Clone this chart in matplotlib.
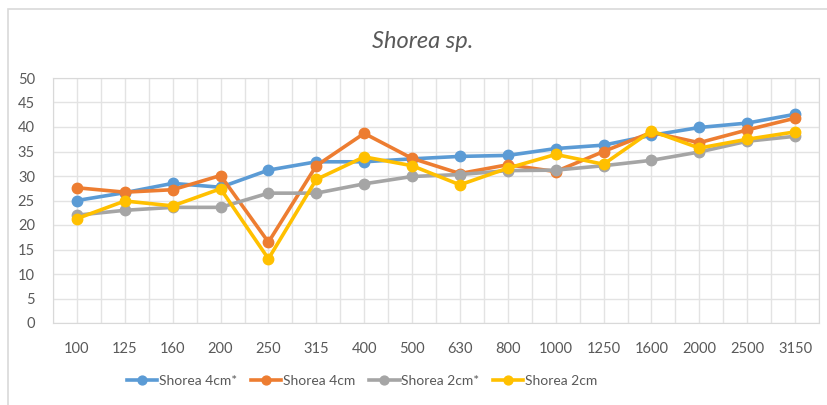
import matplotlib.pyplot as plt
import numpy as np
from matplotlib.patches import Rectangle

plt.rcParams['font.family'] = ['Lato', 'DejaVu Sans']

# Data
frequencies = ['100', '125', '160', '200', '250', '315', '400', '500', '630',
               '800', '1000', '1250', '1600', '2000', '2500', '3150']
shorea_4cm_star = [25.0, 26.6, 28.5, 27.7, 31.2, 32.9, 32.9, 33.5, 34.0,
                   34.2, 35.6, 36.3, 38.3, 39.9, 40.8, 42.6]
shorea_4cm = [27.6, 26.7, 27.2, 30.1, 16.5, 32.1, 38.7, 33.6, 30.5,
              32.3, 30.9, 35.0, 38.9, 36.8, 39.4, 41.8]
shorea_2cm_star = [22.0, 23.0, 23.6, 23.6, 26.5, 26.5, 28.4, 29.9, 30.3,
                   31.1, 31.2, 32.1, 33.2, 34.9, 37.1, 38.1]
shorea_2cm = [21.3, 24.9, 23.9, 27.4, 13.1, 29.3, 33.9, 32.1, 28.2,
              31.6, 34.4, 32.4, 39.2, 35.7, 37.5, 39.0]

series = [
    ('Shorea 4cm*', shorea_4cm_star, '#5B9BD5'),
    ('Shorea 4cm', shorea_4cm, '#ED7D31'),
    ('Shorea 2cm*', shorea_2cm_star, '#A5A5A5'),
    ('Shorea 2cm', shorea_2cm, '#FFC000'),
]

fig = plt.figure(figsize=(8.27, 4.05), dpi=100)
ax = fig.add_axes([53 / 827, 82 / 405, 766 / 827, 245 / 405])

# chart area border (cut off at right/bottom like the reference)
fig.patches.append(Rectangle((8 / 827, -0.05), 1.2, (405 - 9) / 405 + 0.05,
                             transform=fig.transFigure, fill=False,
                             edgecolor='#D9D9D9', linewidth=1.2))

x = np.arange(len(frequencies))
for label, values, color in series:
    ax.plot(x, values, color=color, linewidth=2.6, marker='o', markersize=7.5,
            label=label, zorder=3)

ax.set_xlim(-0.5, len(frequencies) - 0.5)
ax.set_ylim(0, 50)
ax.set_yticks(np.arange(0, 51, 5))
ax.set_xticks(x)
ax.set_xticklabels(frequencies)
ax.set_xticks(np.arange(-0.5, len(frequencies), 1), minor=True)

ax.grid(True, which='major', color='#E3E3E3', linewidth=1)
ax.grid(True, which='minor', axis='x', color='#E3E3E3', linewidth=1)
ax.set_axisbelow(True)
for s in ax.spines.values():
    s.set_color('#D9D9D9')
ax.tick_params(which='both', length=0, colors='#595959', labelsize=10.5)
ax.tick_params(axis='y', pad=13)
ax.tick_params(axis='x', pad=14)

fig.text(423 / 827, 1 - 42 / 405, 'Shorea sp.', ha='center', va='center',
         fontsize=17, style='italic', color='#595959')

ax.legend(loc='center', bbox_to_anchor=(362 / 827, 1 - 381 / 405),
          bbox_transform=fig.transFigure, ncol=4, frameon=False,
          fontsize=10, labelcolor='#595959', handlelength=2.2,
          handletextpad=0.1, columnspacing=1.0, markerscale=0.85)

fig.savefig('out.png', dpi=100)
